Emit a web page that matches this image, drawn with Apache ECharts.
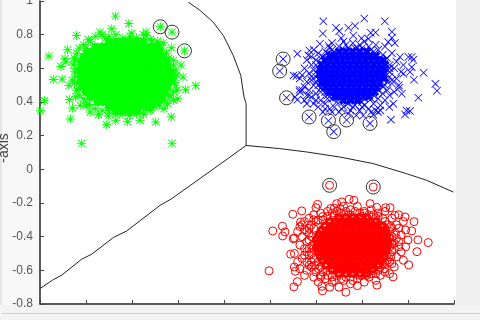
<!DOCTYPE html>
<html>
<head>
<meta charset="utf-8">
<style>html,body{margin:0;padding:0;background:#fff}#main{width:480px;height:320px}</style>
<script src="https://cdn.jsdelivr.net/npm/echarts@6/dist/echarts.min.js"></script>
</head>
<body>
<div id="main"></div>
<script>
var axisRange = [-0.8, 1];

// outlying points read one by one
var greenPoints = [[-.472,.910],[-.414,.866],[-.277,.847],[-.226,.815],[-.172,.704],[-.488,.835],[-.641,.795],[-.539,.815],[-.401,.809],[-.339,.815],[-.339,.795],[-.517,.775],[-.761,.673],[-.680,.710],[-.691,.657],[-.688,.637],[-.709,.611],[-.648,.647],[-.742,.534],[-.704,.536],[-.674,.498],[-.781,.408],[-.797,.348],[-.672,.415],[-.659,.364],[-.668,.299],[-.619,.154],[-.226,.154],[-.510,.265],[-.471,.289],[-.420,.283],[-.365,.291],[-.297,.281],[-.229,.311],[-.261,.360],[-.201,.419],[-.123,.497],[-.167,.473],[-.178,.548],[-.187,.619],[-.219,.647],[-.229,.722],[-.264,.752],[-.314,.762],[-.582,.340],[-.546,.324],[-.503,.317],[-.351,.340],[-.625,.380],[-.600,.375],[-.240,.440],[-.275,.400],[-.250,.470],[-.580,.760],[-.600,.720],[-.300,.730],[-.650,.580],[-.660,.530],[-.640,.470],[-.645,.430],
[-.56,.79],[-.53,.80],[-.50,.79],[-.47,.80],[-.44,.78],[-.41,.79],[-.38,.78],[-.35,.80],[-.32,.77],[-.29,.76],[-.59,.77],[-.61,.74],[-.63,.72],[-.64,.69],[-.65,.66],[-.655,.62],[-.64,.60],[-.645,.55],[-.65,.51],[-.63,.48],[-.63,.44],[-.61,.42],[-.60,.40],[-.585,.385],[-.56,.36],[-.53,.35],[-.50,.34],[-.47,.325],[-.44,.33],[-.41,.32],[-.38,.33],[-.35,.325],[-.32,.35],[-.30,.37],[-.28,.38],[-.26,.41],[-.235,.43],[-.22,.46],[-.21,.50],[-.215,.53],[-.205,.56],[-.21,.59],[-.22,.62],[-.24,.66],[-.25,.69],[-.27,.72],[-.28,.74],[-.205,.47],[-.22,.41],[-.245,.39]];
var greenRows = [
  [.76,-.50,-.47,-.44,-.41,-.38,-.35],
  [.73,-.56,-.53,-.505,-.48,-.45,-.425,-.40,-.375,-.35,-.32,-.295],
  [.70,-.595,-.57,-.54,-.515,-.49,-.465,-.44,-.41,-.385,-.36,-.335,-.31,-.28],
  [.67,-.61,-.58,-.555,-.53,-.50,-.475,-.45,-.425,-.40,-.37,-.345,-.32,-.295,-.265],
  [.64,-.62,-.595,-.57,-.54,-.515,-.49,-.46,-.435,-.41,-.385,-.355,-.33,-.305,-.28,-.25],
  [.61,-.62,-.59,-.565,-.54,-.51,-.485,-.46,-.43,-.405,-.38,-.355,-.325,-.30,-.275,-.245],
  [.58,-.625,-.60,-.57,-.545,-.52,-.49,-.465,-.44,-.415,-.385,-.36,-.335,-.31,-.28,-.255,-.23],
  [.55,-.62,-.595,-.565,-.54,-.515,-.485,-.46,-.435,-.41,-.38,-.355,-.33,-.30,-.275,-.25,-.225],
  [.52,-.625,-.60,-.575,-.55,-.52,-.495,-.47,-.44,-.415,-.39,-.365,-.335,-.31,-.285,-.26,-.23],
  [.49,-.615,-.59,-.56,-.535,-.51,-.48,-.455,-.43,-.405,-.375,-.35,-.325,-.30,-.27,-.245],
  [.46,-.60,-.575,-.55,-.52,-.495,-.47,-.44,-.415,-.39,-.365,-.335,-.31,-.285,-.26],
  [.43,-.58,-.555,-.53,-.50,-.475,-.45,-.425,-.40,-.37,-.345,-.32,-.295,-.27],
  [.40,-.55,-.525,-.50,-.47,-.445,-.42,-.395,-.365,-.34,-.315,-.29],
  [.37,-.50,-.475,-.45,-.42,-.395,-.37,-.34,-.32],
  [.345,-.47,-.44,-.41,-.38]
];
var blueSupport = [[.257,.655],[.242,.584],[.272,.425],[.370,.311],[.454,.289],[.477,.224],[.533,.293],[.635,.273]];
var redSupport = [[.459,-.095],[.649,-.105]];
var greenSupport = [[-.277,.847],[-.226,.815],[-.172,.704]];

var bluePoints = [[.610,.896],[.432,.880],[.699,.880],[.487,.841],[.501,.821],[.541,.841],[.570,.853],[.430,.807],[.730,.817],[.638,.811],[.659,.813],[.730,.781],[.562,.795],[.598,.779],[.714,.756],[.743,.750],[.628,.775],[.319,.686],[.257,.655],[.242,.584],[.272,.425],[.370,.311],[.454,.289],[.477,.224],[.533,.293],[.635,.273],[.302,.558],[.315,.555],[.328,.473],[.319,.413],[.309,.429],[.371,.706],[.417,.746],[.454,.736],[.367,.677],[.816,.667],[.802,.667],[.823,.651],[.816,.607],[.809,.578],[.868,.574],[.826,.532],[.919,.508],[.926,.467],[.845,.425],[.794,.350],[.809,.346],[.787,.326],[.726,.295],[.719,.370],[.736,.390],[.773,.449],[.762,.485],[.765,.667],[.780,.568],[.671,.340],[.649,.325],[.605,.320],[.575,.320],
[.36,.65],[.38,.62],[.35,.60],[.34,.56],[.33,.54],[.37,.57],[.39,.59],[.36,.52],[.38,.53],[.35,.49],[.37,.47],[.39,.50],[.33,.46],[.36,.44],[.38,.43],[.40,.45],[.35,.41],[.39,.39],[.42,.41],[.41,.37],[.44,.39],[.46,.36],[.43,.34],[.48,.37],[.50,.34],[.52,.37],[.55,.35],[.57,.38],[.59,.35],[.61,.38],[.63,.36],[.65,.39],[.66,.35],[.68,.38],[.70,.41],[.67,.42],[.72,.44],[.74,.46],[.71,.47],[.76,.50],[.73,.51],[.75,.54],[.72,.55],[.77,.58],[.74,.60],[.72,.62],[.75,.64],[.78,.62],[.71,.66],[.73,.69],[.69,.68],[.67,.71],[.70,.73],[.66,.74],[.63,.73],[.61,.76],[.58,.72],[.56,.75],[.54,.72],[.52,.76],[.50,.73],[.48,.70],[.51,.78],[.46,.72],[.44,.70],[.47,.75],[.43,.67],[.41,.69],[.45,.66],[.40,.65],[.42,.63],[.39,.71],[.41,.60],[.40,.55],[.41,.50],[.42,.46],[.45,.42],[.49,.40],[.54,.39],[.60,.40],[.64,.42],[.69,.45],[.70,.50],[.72,.58],[.70,.63],[.65,.70],[.60,.72],[.52,.71],[.47,.68],[.43,.60],[.43,.54],
[.40,.62],[.42,.58],[.41,.56],[.40,.52],[.43,.50],[.42,.48],[.44,.46],[.45,.44],[.47,.42],[.49,.43],[.51,.41],[.53,.40],[.56,.41],[.58,.40],[.61,.42],[.63,.44],[.65,.44],[.67,.47],[.69,.49],[.71,.52],[.73,.53],[.70,.55],[.72,.60],[.71,.59],[.70,.65],[.68,.66],[.66,.68],[.64,.71],[.62,.70],[.59,.74],[.57,.72],[.55,.70],[.53,.74],[.49,.68],[.47,.71],[.45,.69],[.44,.65],[.42,.66],[.38,.67],[.38,.55],[.37,.44],[.34,.47],[.36,.39],[.40,.41],[.44,.36],[.47,.34],[.51,.36],[.54,.33],[.56,.37],[.60,.37],[.64,.34],[.68,.35]];
var blueRows = [
  [.70,.50,.53,.56,.59,.62],
  [.675,.46,.485,.51,.535,.56,.585,.61,.635,.66],
  [.648,.44,.465,.49,.515,.54,.565,.59,.615,.64,.665,.69],
  [.621,.425,.45,.475,.50,.525,.55,.575,.60,.625,.65,.675,.70],
  [.594,.42,.445,.47,.495,.52,.545,.57,.595,.62,.645,.67,.695],
  [.567,.415,.44,.465,.49,.515,.54,.565,.59,.615,.64,.665,.69],
  [.54,.42,.445,.47,.495,.52,.545,.57,.595,.62,.645,.67,.695],
  [.513,.425,.45,.475,.50,.525,.55,.575,.60,.625,.65,.675],
  [.486,.44,.465,.49,.515,.54,.565,.59,.615,.64,.665],
  [.459,.455,.48,.505,.53,.555,.58,.605,.63,.655],
  [.432,.48,.505,.53,.555,.58,.605,.63],
  [.41,.52,.55,.58]
];

var redPoints = [[.459,-.095],[.649,-.105],[.212,-.366],[.196,-.603],[.254,-.338],[.265,-.372],[.255,-.396],[.299,-.267],[.338,-.247],[.407,-.208],[.400,-.228],[.306,-.408],[.301,-.412],[.333,-.313],[.290,-.504],[.306,-.500],[.306,-.580],[.310,-.606],[.319,-.667],[.304,-.698],[.425,-.695],[.428,-.722],[.530,-.730],[.580,-.691],[.665,-.688],[.735,-.639],[.803,-.568],[.839,-.489],[.888,-.435],[.843,-.419],[.826,-.311],[.816,-.366],[.787,-.283],[.743,-.273],[.722,-.228],[.703,-.228],[.635,-.204],[.664,-.226],[.544,-.178],[.565,-.184],[.512,-.194],[.490,-.204],[.464,-.233],[.505,-.233],
[.33,-.34],[.35,-.31],[.37,-.29],[.39,-.27],[.42,-.26],[.45,-.25],[.48,-.23],[.52,-.22],[.55,-.24],[.58,-.22],[.61,-.25],[.64,-.24],[.67,-.26],[.70,-.25],[.73,-.29],[.76,-.27],[.78,-.31],[.75,-.33],[.79,-.36],[.77,-.39],[.80,-.42],[.76,-.43],[.79,-.46],[.77,-.49],[.74,-.47],[.75,-.52],[.78,-.54],[.72,-.55],[.74,-.58],[.70,-.59],[.72,-.62],[.68,-.63],[.66,-.66],[.63,-.64],[.61,-.67],[.58,-.65],[.55,-.68],[.52,-.66],[.50,-.70],[.47,-.67],[.44,-.65],[.46,-.70],[.42,-.63],[.39,-.64],[.41,-.67],[.36,-.60],[.38,-.58],[.35,-.63],[.33,-.59],[.36,-.55],[.34,-.53],[.32,-.55],[.37,-.51],[.35,-.47],[.33,-.45],[.36,-.43],[.34,-.40],[.37,-.38],[.32,-.37],[.39,-.35],[.40,-.31],[.43,-.30],[.41,-.55],[.39,-.47],[.40,-.42],[.73,-.35],[.72,-.41],[.73,-.44],[.71,-.51],[.69,-.56],[.65,-.60],[.60,-.63],[.55,-.64],[.49,-.63],[.45,-.60],[.42,-.58],[.66,-.29],[.60,-.28],[.54,-.27],[.48,-.28],
[.39,-.30],[.38,-.33],[.37,-.35],[.36,-.37],[.38,-.40],[.37,-.42],[.385,-.45],[.37,-.47],[.38,-.50],[.36,-.49],[.39,-.53],[.38,-.55],[.395,-.57],[.41,-.59],[.43,-.61],[.42,-.64],[.45,-.63],[.47,-.64],[.48,-.66],[.51,-.65],[.53,-.64],[.56,-.66],[.59,-.63],[.62,-.63],[.64,-.62],[.67,-.60],[.68,-.58],[.70,-.56],[.71,-.54],[.725,-.52],[.73,-.49],[.72,-.46],[.74,-.44],[.72,-.43],[.73,-.40],[.745,-.38],[.72,-.37],[.725,-.34],[.71,-.33],[.70,-.31],[.69,-.29],[.67,-.28],[.65,-.27],[.63,-.27],[.61,-.26],[.59,-.26],[.57,-.25],[.55,-.27],[.53,-.25],[.51,-.26],[.49,-.25],[.47,-.26],[.45,-.28],[.43,-.28],[.41,-.30],[.76,-.35],[.75,-.41],[.76,-.46],[.73,-.56],[.70,-.61],[.66,-.62],[.40,-.61],[.37,-.57],[.35,-.51],[.35,-.36],[.34,-.33]];
var redRows = [
  [.29,.50,.53,.56,.59,.62],
  [.315,.46,.485,.51,.535,.56,.585,.61,.635,.66],
  [.34,.44,.465,.49,.515,.54,.565,.59,.615,.64,.665,.69],
  [.365,.425,.45,.475,.50,.525,.55,.575,.60,.625,.65,.675,.70],
  [.39,.415,.44,.465,.49,.515,.54,.565,.59,.615,.64,.665,.69,.705],
  [.415,.405,.43,.455,.48,.505,.53,.555,.58,.605,.63,.655,.68,.705],
  [.44,.41,.435,.46,.485,.51,.535,.56,.585,.61,.635,.66,.685,.71],
  [.465,.405,.43,.455,.48,.505,.53,.555,.58,.605,.63,.655,.68,.705],
  [.49,.41,.435,.46,.485,.51,.535,.56,.585,.61,.635,.66,.685,.70],
  [.515,.42,.445,.47,.495,.52,.545,.57,.595,.62,.645,.67,.695],
  [.54,.43,.455,.48,.505,.53,.555,.58,.605,.63,.655,.68],
  [.565,.445,.47,.495,.52,.545,.57,.595,.62,.645,.67],
  [.59,.47,.495,.52,.545,.57,.595,.62,.645],
  [.615,.50,.53,.56,.59,.62]
];

// boundaries between the three classes
var lineUp = [[.096,.142],[.096,.392],[.087,.429],[.073,.558],[.040,.677],[-.003,.795],[-.047,.874],[-.104,.944],[-.155,.993]];
var lineRight = [[.096,.142],[.243,.123],[.360,.103],[.504,.073],[.649,.034],[.794,-.026],[.881,-.065],[.997,-.135]];
var lineLeft = [[.096,.142],[0,.047],[-.227,-.174],[-.278,-.214],[-.423,-.366],[-.481,-.405],[-.575,-.504],[-.619,-.534],[-.706,-.629],[-.742,-.655],[-.8,-.708]];

var starThin = 'path://M0 45H100V55H0Z M45 0H55V100H45Z M7 14L14 7L93 86L86 93Z M86 7L93 14L14 93L7 86Z';
var starBold = 'path://M0 35H100V65H0Z M35 0H65V100H35Z M0 21L21 0L100 79L79 100Z M79 0L100 21L21 100L0 79Z';
var crossThin = 'path://M0 7L7 0L50 43L93 0L100 7L57 50L100 93L93 100L50 57L7 100L0 93L43 50Z';
var crossBold = 'path://M0 28L28 0L50 22L72 0L100 28L78 50L100 72L72 100L50 78L28 100L0 72L22 50Z';

// rows are written as [y, x, x, ...]
function fromRows(rows, negY) {
    var d = [];
    for (var i = 0; i < rows.length; i++) {
        for (var j = 1; j < rows[i].length; j++) {
            d.push([rows[i][j], negY ? -rows[i][0] : rows[i][0]]);
        }
    }
    return d;
}
function scatter(data, symbol, size, color) {
    return {type: 'scatter', data: data, symbol: symbol, symbolSize: size, clip: false, itemStyle: {color: color, opacity: 1}};
}
function rings(data, size, color, width) {
    return {type: 'scatter', data: data, symbol: 'circle', symbolSize: size, clip: false,
        itemStyle: {color: 'transparent', borderColor: color, borderWidth: width, opacity: 1}};
}
function boundary(data) {
    return {type: 'line', data: data, symbol: 'none', clip: false, lineStyle: {color: '#222', width: 1}};
}

var chart = echarts.init(document.getElementById('main'));
chart.setOption({
    animation: false,
    backgroundColor: '#fff',
    grid: {left: 40, right: 26, top: 1, bottom: 16, outerBoundsMode: 'none'},
    graphic: [
        {type: 'rect', z: -1, shape: {x: 0, y: 0, width: 40, height: 320}, style: {fill: '#f8f8f8'}},
        {type: 'rect', z: -1, shape: {x: 0, y: 0, width: 2, height: 320}, style: {fill: '#e6e6e6'}},
        {type: 'rect', z: -1, shape: {x: 456, y: 0, width: 24, height: 320}, style: {fill: '#f0f0f0'}},
        {type: 'rect', z: -1, shape: {x: 0, y: 305, width: 480, height: 15}, style: {fill: '#f3f3f3'}},
        {type: 'rect', z: -1, shape: {x: 2, y: 313, width: 478, height: 1}, style: {fill: '#cfcfcf'}},
        {type: 'text', x: 4, y: 148, rotation: Math.PI / 2, style: {text: '-axis', fill: '#444', font: '14px "Liberation Sans"', align: 'center', verticalAlign: 'middle'}}
    ],
    xAxis: {
        type: 'value', min: axisRange[0], max: axisRange[1], interval: 0.2,
        splitLine: {show: false},
        axisLabel: {show: false},
        axisLine: {onZero: false, lineStyle: {color: '#262626', width: 1.5}},
        axisTick: {inside: true, length: 4, lineStyle: {color: '#444'}}
    },
    yAxis: {
        type: 'value', min: axisRange[0], max: axisRange[1], interval: 0.2,
        splitLine: {show: false},
        axisLabel: {color: '#555', fontSize: 12, fontFamily: 'Liberation Sans', margin: 7, showMinLabel: true, showMaxLabel: true},
        axisLine: {onZero: false, lineStyle: {color: '#262626', width: 1.5}},
        axisTick: {inside: true, length: 4, lineStyle: {color: '#444'}}
    },
    series: [
        scatter(fromRows(greenRows), starBold, 8, '#00ff00'),
        scatter(greenPoints, starThin, 9, '#00ff00'),
        scatter(fromRows(blueRows), crossBold, 9, '#0000ff'),
        scatter(bluePoints, crossThin, 8, '#0000ff'),
        rings(fromRows(redRows, true), 7, '#ff0000', 3),
        rings(redPoints, 8, '#ff0000', 1),
        rings(greenSupport.concat(blueSupport, redSupport), 14, '#333', 1),
        boundary(lineUp),
        boundary(lineRight),
        boundary(lineLeft)
    ]
});
</script>
</body>
</html>
